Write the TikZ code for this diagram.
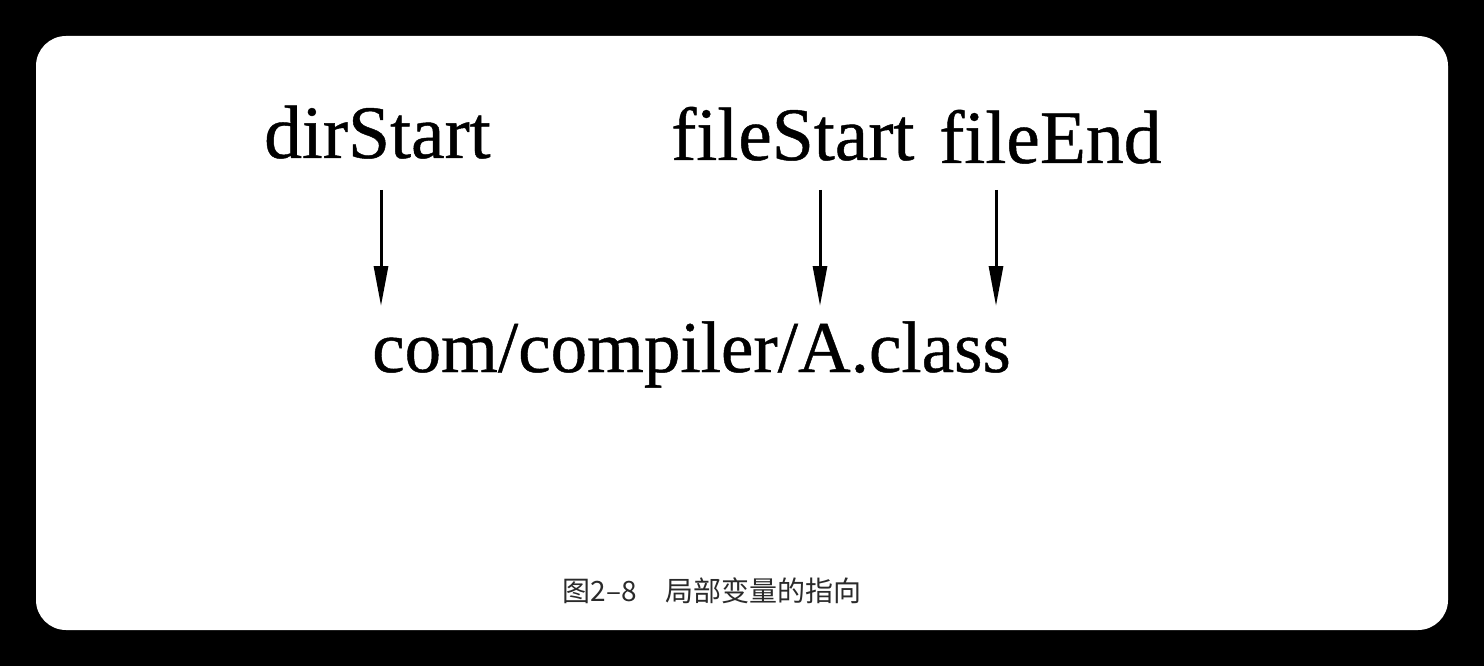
\documentclass[tikz,border=0pt]{standalone}
\usepackage{fontspec}
\setmainfont{Liberation Serif}
\newfontfamily\lblfont[FakeBold=0.6]{Liberation Serif}
\newfontfamily\cjk{Noto Sans CJK SC}
\usetikzlibrary{arrows.meta}
\definecolor{capgray}{HTML}{2A2A2A}
\begin{document}
\begin{tikzpicture}[x=1pt,y=-1pt,
  lbl/.style={inner sep=0pt,anchor=base west,font=\lblfont\fontsize{75.5}{80}\selectfont},
  ptr/.style={line width=3pt,-{Triangle[length=40pt,width=14pt]}}]
\useasboundingbox (0,0) rectangle (1484,666);
\fill[black] (0,0) rectangle (1484,666);
\fill[white,rounded corners=30pt] (36,36) rectangle (1448,630);
\node[lbl] (dir) at (264,158) {dirStart};
\node[lbl] (fs) at (671,160) {fileStart};
\node[lbl] (fe) at (939,163) {fileEnd};
\node[lbl,font=\lblfont\fontsize{73}{80}\selectfont] (path) at (372,372) {com/compiler/A.class};
\coordinate (d1) at (381,190); \coordinate (d2) at (381,306);
\coordinate (s1) at (820,190); \coordinate (s2) at (820,306);
\coordinate (e1) at (996,190); \coordinate (e2) at (996,306);
\draw[ptr] (d1) -- (d2);
\draw[ptr] (s1) -- (s2);
\draw[ptr] (e1) -- (e2);
\node[inner sep=0pt,text=capgray,font=\cjk\fontsize{28}{32}\selectfont] (cap) at (712,591) {图2–8\hspace{1em}局部变量的指向};
\end{tikzpicture}
\end{document}
